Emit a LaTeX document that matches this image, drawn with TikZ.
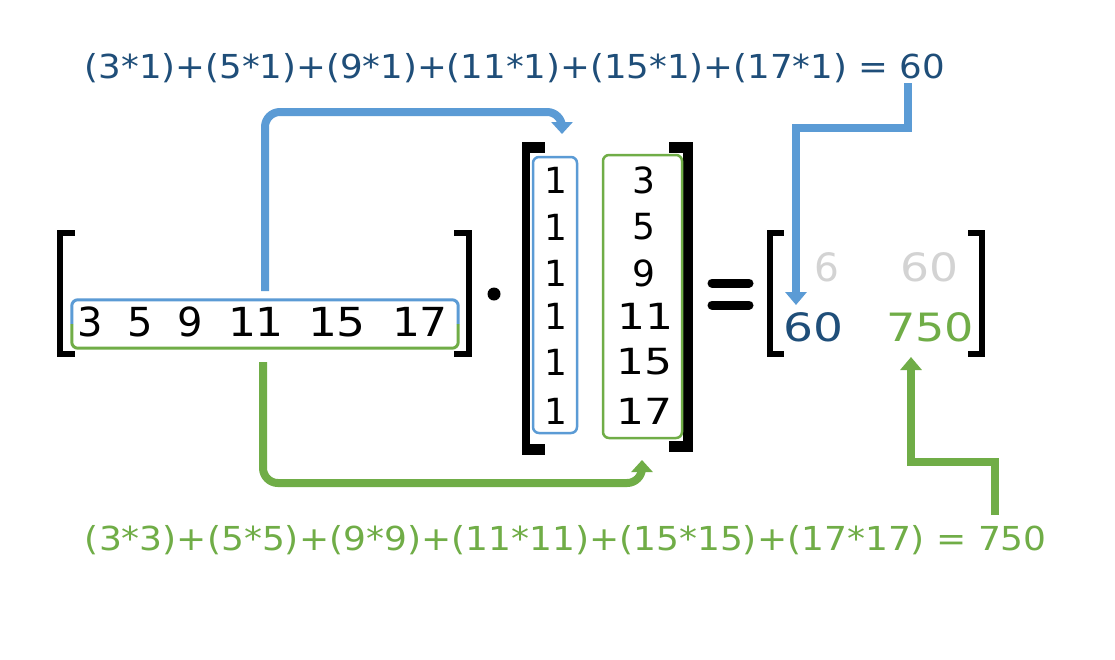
\documentclass[tikz,border=0pt]{standalone}
\usepackage{fontspec}
\setmainfont{DejaVu Sans}
\usetikzlibrary{arrows.meta,calc}
\definecolor{dblue}{HTML}{1F4E79}
\definecolor{lblue}{HTML}{5B9BD5}
\definecolor{mgreen}{HTML}{70AD47}
\definecolor{lgray}{HTML}{D3D3D3}
\tikzset{
  bignum/.style={inner sep=0pt, font=\fontsize{40}{48}\selectfont},
  colnum/.style={inner sep=0pt, font=\fontsize{36}{42}\selectfont},
  resnum/.style={inner sep=0pt, font=\fontsize{39}{44}\selectfont},
  formula/.style={inner sep=0pt, font=\fontsize{33}{38}\selectfont},
  brk/.style={fill=black},
  curvearrow/.style={line width=8pt, rounded corners=15pt, -{Triangle[width=21pt,length=12pt]}},
  elbowarrow/.style={line width=8.5pt, miter limit=10, line join=miter, -{Triangle[width=21pt,length=13pt]}},
  colbox/.style={line width=2.5pt, rounded corners=6pt, inner sep=0pt}
}
\begin{document}
\begin{tikzpicture}[x=1pt,y=-1pt]
\useasboundingbox[fill=white] (0,0) rectangle (1115,659);

% top formula
\node[formula, text=dblue] (ftop) at (515,68)
  {\resizebox{860pt}{\height}{(3*1)+(5*1)+(9*1)+(11*1)+(15*1)+(17*1) = 60}};
% bottom formula
\node[formula, text=mgreen] (fbot) at (566,540)
  {\resizebox{962pt}{\height}{(3*3)+(5*5)+(9*9)+(11*11)+(15*15)+(17*17) = 750}};

% row vector brackets
\fill[brk] (57,230) rectangle (63,357);
\fill[brk] (57,230) rectangle (75,236);
\fill[brk] (57,351) rectangle (75,357);
\fill[brk] (466,230) rectangle (472,357);
\fill[brk] (454,230) rectangle (472,236);
\fill[brk] (454,351) rectangle (472,357);

% row vector box (two-coloured border)
\node[minimum width=386pt, minimum height=48pt, inner sep=0pt] (rowvec) at (265,324) {};
\draw[lblue, line width=3pt, rounded corners=6pt] (rowvec.west) |- (rowvec.north) -| (rowvec.east);
\draw[mgreen, line width=3pt, rounded corners=6pt] (rowvec.west) |- (rowvec.south) -| (rowvec.east);
\node[bignum] (r1) at (90,322) {3};
\node[bignum] (r2) at (140,322) {5};
\node[bignum] (r3) at (190,322) {9};
\node[bignum] (r4) at (256,322) {\resizebox{56pt}{\height}{11}};
\node[bignum] (r5) at (337,322) {\resizebox{58pt}{\height}{15}};
\node[bignum] (r6) at (420,322) {\resizebox{56pt}{\height}{17}};

% dot
\fill (494,294) circle (6.5pt);

% column matrix brackets
\fill[brk] (522,142) rectangle (530,455);
\fill[brk] (522,142) rectangle (545,153);
\fill[brk] (522,444) rectangle (545,455);
\fill[brk] (683,142) rectangle (693,452);
\fill[brk] (669,142) rectangle (693,153);
\fill[brk] (669,441) rectangle (693,452);

% column boxes
\node[colbox, draw=lblue, minimum width=44pt, minimum height=276pt] (colA) at (555,295) {};
\node[colbox, draw=mgreen, minimum width=79pt, minimum height=283pt] (colB) at (642.5,296.5) {};
\foreach \y [count=\i] in {180,227,273,316,362,411}{
  \node[colnum] (a\i) at (556,\y) {1};
}
\node[colnum] (b1) at (644,180) {3};
\node[colnum] (b2) at (644,227) {5};
\node[colnum] (b3) at (644,273) {9};
\node[colnum] (b4) at (645,316) {\resizebox{56pt}{\height}{11}};
\node[colnum] (b5) at (644,362) {\resizebox{56pt}{\height}{15}};
\node[colnum] (b6) at (644,411) {\resizebox{56pt}{\height}{17}};

% equals sign
\draw[line width=9pt, line cap=round] (712,283) -- (749,283);
\draw[line width=9pt, line cap=round] (712,305) -- (749,305);

% result brackets
\fill[brk] (767,230) rectangle (773,357);
\fill[brk] (767,230) rectangle (784,236);
\fill[brk] (767,351) rectangle (784,357);
\fill[brk] (979,230) rectangle (985,357);
\fill[brk] (968,230) rectangle (985,236);
\fill[brk] (968,351) rectangle (985,357);

% result entries
\node[resnum, text=lgray] (res11) at (827,267) {6};
\node[resnum, text=lgray] (res12) at (929,267) {\resizebox{58pt}{\height}{60}};
\node[resnum, text=dblue] (res21) at (813,327) {\resizebox{60pt}{\height}{60}};
\node[resnum, text=mgreen] (res22) at (930,327) {\resizebox{88pt}{\height}{750}};

% connectors
\coordinate (bs) at (265,291);
\coordinate (be) at (562,134);
\draw[curvearrow, lblue] (bs) |- ($(be)+(0,-22)$) -- (be);

\coordinate (gs) at (263,362);
\coordinate (ge) at (642,460);
\draw[curvearrow, mgreen] (gs) |- ($(ge)+(0,23)$) -- (ge);

\coordinate (cs) at (908,83);
\coordinate (ce) at (796,305);
\draw[elbowarrow, lblue] (cs) -- ++(0,45) -| (ce);

\coordinate (ds) at (995,515);
\coordinate (de) at (911,357);
\draw[elbowarrow, mgreen] (ds) -- ++(0,-53) -| (de);
\end{tikzpicture}
\end{document}
